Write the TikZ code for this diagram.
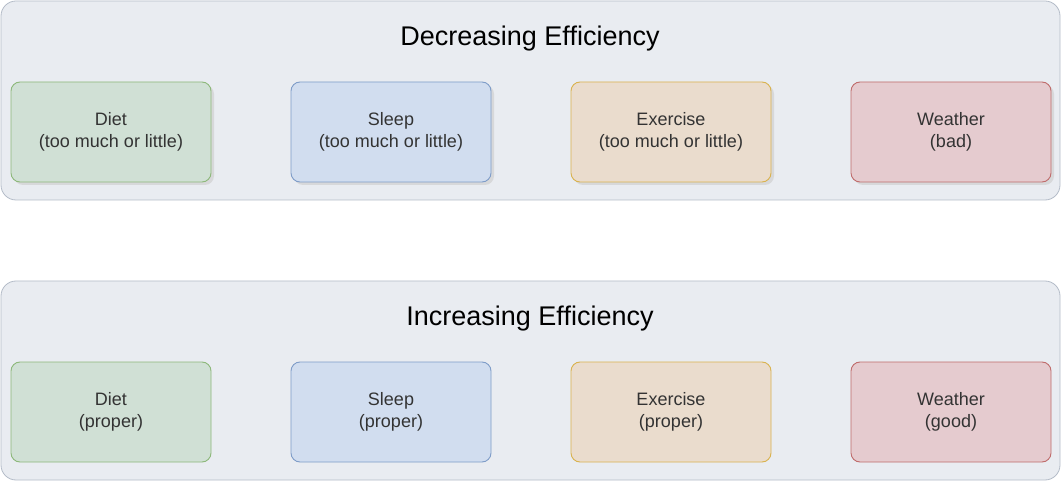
\documentclass[tikz,border=0pt]{standalone}
\usepackage{fontspec}
\setmainfont{Liberation Sans}
\usetikzlibrary{shadows}
\definecolor{contfill}{HTML}{E9ECF1}
\definecolor{contdraw}{HTML}{B4BCC8}
\definecolor{gfill}{HTML}{D0E0D5}
\definecolor{gdraw}{HTML}{8DB87A}
\definecolor{bfill}{HTML}{D1DDEF}
\definecolor{bdraw}{HTML}{7E9CC8}
\definecolor{ofill}{HTML}{EADCCD}
\definecolor{odraw}{HTML}{D9B24E}
\definecolor{rfill}{HTML}{E5CBCF}
\definecolor{rdraw}{HTML}{BF6B6B}
\definecolor{txt}{HTML}{333333}
\tikzset{
  container/.style={draw=contdraw,fill=contfill,line width=0.8pt,rounded corners=15pt,minimum width=1059pt,minimum height=199pt,inner sep=0pt},
  title/.style={font=\fontsize{27}{30}\selectfont,text=black},
  card/.style={line width=0.9pt,rounded corners=9pt,minimum width=200pt,minimum height=100pt,inner sep=0pt,align=center,text=txt,font=\fontsize{18}{22}\selectfont},
  cshadow/.style={card,drop shadow={shadow xshift=3pt,shadow yshift=-3pt,fill=black!20,opacity=0.6}},
  green/.style={draw=gdraw,fill=gfill},
  blue/.style={draw=bdraw,fill=bfill},
  orange/.style={draw=odraw,fill=ofill},
  red/.style={draw=rdraw,fill=rfill},
}
\begin{document}
\begin{tikzpicture}[x=1pt,y=-1pt]
\useasboundingbox (0,0) rectangle (1061,481);
\fill[white] (0,0) rectangle (1061,481);
% containers
\node[container] (top) at (530.5,100.5) {};
\node[container] (bot) at (530.5,380.5) {};
\node[title] (ttop) at (530,38.5) {Decreasing Efficiency};
\node[title] (tbot) at (530,318.5) {Increasing Efficiency};
% top row
\node[cshadow,green] (d1) at (111,132) {Diet\\(too much or little)};
\node[cshadow,blue] (s1) at (391,132) {Sleep\\(too much or little)};
\node[cshadow,orange] (e1) at (671,132) {Exercise\\(too much or little)};
\node[cshadow,red] (w1) at (951,132) {Weather\\(bad)};
% bottom row
\node[card,green] (d2) at (111,412) {Diet\\(proper)};
\node[card,blue] (s2) at (391,412) {Sleep\\(proper)};
\node[card,orange] (e2) at (671,412) {Exercise\\ (proper)};
\node[card,red] (w2) at (951,412) {Weather\\(good)};
\end{tikzpicture}
\end{document}
